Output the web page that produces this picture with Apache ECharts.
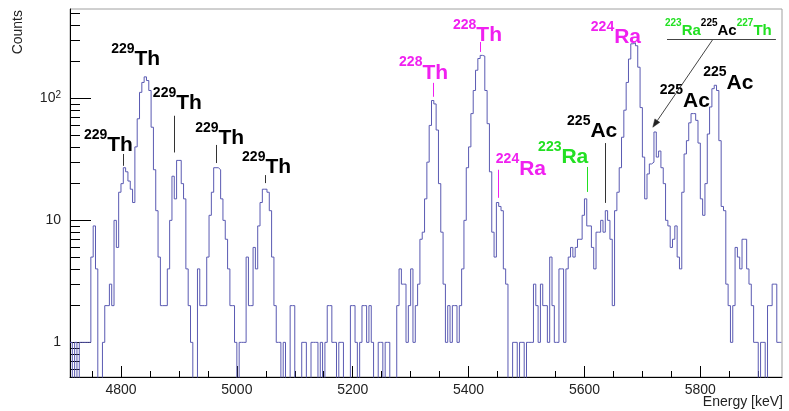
<!DOCTYPE html>
<html>
<head>
<meta charset="utf-8">
<script src="https://cdn.jsdelivr.net/npm/echarts@6/dist/echarts.min.js"></script>
<style>
  html, body { margin: 0; padding: 0; background: #fff; }
  #chart { width: 789px; height: 411px; }
</style>
</head>
<body>
<div id="chart"></div>
<script>
// Alpha spectrum, 4 keV bins, first bin starts at 4712 keV
const binStart = 4712;
const binWidth = 4;

// counts per bin, grouped by energy range (first bin energy in the name)
const counts4712 = [1,0,1,0,1,1,1,1,1,5,9,4,0,0,1,2,2,3,2,10,6,17,20,27];
const counts4808 = [25,21,18,14,40,68,112,135,150,140,116,58,26,12,5,2,2,2,4,10,23,15,31,31,20];
const counts4908 = [15,4,2,1,0,0,4,2,2,2,5,11,17,27,27,26,15,10,7,4,2,2,1,0,1];
const counts5008 = [1,1,5,2,2,6,4,9,14,18,18,17,12,5,2,1,1,0,1,0,0,2,2,0,0];
const counts5108 = [0,1,1,0,0,1,1,1,0,1,0,1,2,2,1,1,0,1,1,0,0,0,2,2,1];
const counts5208 = [0,1,2,2,1,2,1,0,0,1,1,0,1,1,0,0,0,2,4,3,3,1,2,4,1];
const counts5308 = [2,3,7,8,15,30,60,96,90,55,20,8,3,1,2,1,2,2,1,2,4,10,27,40,75];
const counts5408 = [116,170,212,225,222,116,62,25,8,5,14,13,12,4,3,0,0,1,1,0,1,1,0,1,1];
const counts5508 = [1,3,2,1,3,2,2,1,5,2,1,1,4,4,1,4,5,6,5,6,7,7,11,15,9];
const counts5608 = [9,6,4,8,8,10,8,12,10,7,2,12,17,27,48,80,135,210,280,285,270,180,84,33,15];
const counts5708 = [24,29,30,53,33,37,27,20,10,9,6,7,9,5,4,17,35,45,63,75,75,66,43,15,11];
const counts5808 = [20,51,85,120,128,116,45,13,12,3,2,1,2,6,5,4,7,7,4,3,2,1,1,0,1,1,0,2,2,3,3,1,1];

// axis tick values
const xMajorTicks = [4800, 5000, 5200, 5400, 5600, 5800];
const xMinorTicks = [4750, 4850, 4900, 4950, 5050, 5100, 5150, 5250, 5300, 5350, 5450, 5500, 5550, 5650, 5700, 5750, 5850, 5900];
const yMajorTicks = [1, 10, 100];
const yMinorTicks = [0.6, 0.7, 0.8, 0.9, 2, 3, 4, 5, 6, 7, 8, 9, 20, 30, 40, 50, 60, 70, 80, 90, 200, 300, 400, 500];

// axis ranges
const eMin = 4712, eMax = 5941;
const cMin = 0.52, cMax = 540;

const FONT = "'Liberation Sans', Arial, Helvetica, sans-serif";
const TONES = { black: '#000000', magenta: '#f020f0', green: '#22e022' };

const counts = [].concat(counts4712, counts4808, counts4908, counts5008, counts5108, counts5208,
  counts5308, counts5408, counts5508, counts5608, counts5708, counts5808);

// empty bins fall below the log axis floor
const emptyLevel = 0.3;
const histData = counts.map((c, i) => [binStart + i * binWidth, c > 0 ? c : emptyLevel]);
histData.push([binStart + counts.length * binWidth, counts[counts.length - 1] || emptyLevel]);

const lg = v => Math.log10(v);

const option = {
  animation: false,
  backgroundColor: '#ffffff',
  grid: {
    left: 70, right: 7, top: 9, bottom: 34,
    show: true, borderColor: '#a0a0a0', borderWidth: 1,
    containLabel: false, outerBoundsMode: 'none'
  },
  xAxis: [
    {
      type: 'value', min: eMin, max: eMax, position: 'bottom',
      axisLine: { show: true, onZero: false, lineStyle: { color: '#000', width: 1 } },
      axisTick: { show: true, inside: true, length: 11, customValues: xMajorTicks, lineStyle: { color: '#000' } },
      axisLabel: { customValues: xMajorTicks, color: '#222', fontSize: 14, fontFamily: FONT, margin: 6,
        formatter: v => String(Math.round(v)) },
      splitLine: { show: false }
    },
    {
      type: 'value', min: eMin, max: eMax, position: 'bottom',
      axisLine: { show: false, onZero: false },
      axisTick: { show: true, inside: true, length: 6, customValues: xMinorTicks, lineStyle: { color: '#000' } },
      axisLabel: { show: false },
      splitLine: { show: false }
    }
  ],
  yAxis: [
    {
      type: 'log', logBase: 10, min: cMin, max: cMax, position: 'left',
      axisLine: { show: true, onZero: false, lineStyle: { color: '#000', width: 1 } },
      axisTick: { show: false },
      axisLabel: { show: false },
      splitLine: { show: false }
    },
    {
      type: 'value', min: lg(cMin), max: lg(cMax), position: 'left',
      axisLine: { show: false, onZero: false },
      axisTick: { show: true, inside: true, length: 21, customValues: yMajorTicks.map(lg), lineStyle: { color: '#000' } },
      axisLabel: {
        customValues: yMajorTicks.map(lg),
        color: '#222', fontSize: 14, fontFamily: FONT, margin: 9, lineHeight: 16,
        formatter: v => {
          const p = Math.round(v);
          if (p === 0) return '1';
          if (p === 1) return '10';
          return '10{sup|' + p + '}';
        },
        rich: { sup: { fontSize: 10, fontFamily: FONT, color: '#222', verticalAlign: 'top', lineHeight: 10 } }
      },
      splitLine: { show: false }
    },
    {
      type: 'value', min: lg(cMin), max: lg(cMax), position: 'left',
      axisLine: { show: false, onZero: false },
      axisTick: { show: true, inside: true, length: 10, customValues: yMinorTicks.map(lg), lineStyle: { color: '#000' } },
      axisLabel: { show: false },
      splitLine: { show: false }
    }
  ],
  series: [
    {
      type: 'line',
      step: 'end',
      xAxisIndex: 0,
      yAxisIndex: 0,
      data: histData,
      showSymbol: false,
      symbol: 'none',
      clip: true,
      silent: true,
      lineStyle: { color: '#5a5ab2', width: 1 }
    }
  ]
};

const chart = echarts.init(document.getElementById('chart'), null, { renderer: 'canvas', width: 789, height: 411 });
chart.setOption(option);

// Nuclide labels: left edge (keV) and vertical centre (counts)
const peakLabels = [
  { mass: '229', el: 'Th', tone: 'black', e: 4736, c: 44 },
  { mass: '229', el: 'Th', tone: 'black', e: 4783, c: 222 },
  { mass: '229', el: 'Th', tone: 'black', e: 4855, c: 97 },
  { mass: '229', el: 'Th', tone: 'black', e: 4928, c: 50 },
  { mass: '229', el: 'Th', tone: 'black', e: 5009, c: 29 },
  { mass: '228', el: 'Th', tone: 'magenta', e: 5280, c: 172 },
  { mass: '228', el: 'Th', tone: 'magenta', e: 5373, c: 350 },
  { mass: '224', el: 'Ra', tone: 'magenta', e: 5447, c: 28 },
  { mass: '223', el: 'Ra', tone: 'green', e: 5520, c: 35 },
  { mass: '225', el: 'Ac', tone: 'black', e: 5570, c: 57 },
  { mass: '224', el: 'Ra', tone: 'magenta', e: 5611, c: 337 },
  { mass: '225', el: 'Ac', tone: 'black', e: 5730, c: 102 },
  { mass: '225', el: 'Ac', tone: 'black', e: 5805, c: 143 }
];

// short pointer lines from labels down to their peaks
const peakPointers = [
  { e: 4803.5, top: 35, bottom: 28, tone: 'black' },
  { e: 4891.5, top: 72, bottom: 36, tone: 'black' },
  { e: 4964, top: 41.5, bottom: 29.5, tone: 'black' },
  { e: 5048.5, top: 23.5, bottom: 20.2, tone: 'black' },
  { e: 5338.5, top: 134, bottom: 103, tone: 'magenta' },
  { e: 5419.5, top: 290, bottom: 240, tone: 'magenta' },
  { e: 5451, top: 26, bottom: 15.3, tone: 'magenta' },
  { e: 5604.5, top: 27.4, bottom: 17.1, tone: 'green' },
  { e: 5635.5, top: 43, bottom: 13.9, tone: 'black' }
];

// group label for the unresolved 5716 keV doublet
const groupLabel = {
  parts: [
    { mass: '223', el: 'Ra', tone: 'green' },
    { mass: '225', el: 'Ac', tone: 'black' },
    { mass: '227', el: 'Th', tone: 'green' }
  ],
  e: 5739, c: 377,
  underline: { e1: 5742.5, e2: 5930.5, c: 306 },
  arrow: { e1: 5822, c1: 306, e2: 5718, c2: 58 }
};

const px = (e, c) => chart.convertToPixel({ xAxisIndex: 0, yAxisIndex: 0 }, [e, c]);

function isotopeRich(sizeMass, sizeEl) {
  const rich = {};
  Object.keys(TONES).forEach(k => {
    rich['m' + k] = { fontSize: sizeMass, fontWeight: 'bold', fontFamily: FONT, fill: TONES[k],
      lineHeight: sizeMass, verticalAlign: 'top' };
    rich['s' + k] = { fontSize: sizeEl, fontWeight: 'bold', fontFamily: FONT, fill: TONES[k],
      lineHeight: Math.round(sizeEl * 1.33), verticalAlign: 'bottom' };
  });
  return rich;
}

const elements = [];

elements.push({
  type: 'text', x: 18, y: 10, rotation: Math.PI / 2, silent: true,
  style: { text: 'Counts', fontSize: 14, fontFamily: FONT, fill: '#222', align: 'right', verticalAlign: 'middle' }
});
elements.push({
  type: 'text', x: 783, y: 402, silent: true,
  style: { text: 'Energy [keV]', fontSize: 14, fontFamily: FONT, fill: '#222', align: 'right', verticalAlign: 'middle' }
});

const richBig = isotopeRich(14, 21);
peakLabels.forEach(l => {
  const p = px(l.e, l.c);
  elements.push({
    type: 'text', x: p[0], y: p[1], silent: true, z: 10,
    style: {
      text: '{m' + l.tone + '|' + l.mass + '}{s' + l.tone + '|' + l.el + '}',
      rich: richBig, align: 'left', verticalAlign: 'middle'
    }
  });
});

peakPointers.forEach(t => {
  const a = px(t.e, t.top), b = px(t.e, t.bottom);
  elements.push({
    type: 'line', silent: true, z: 10,
    shape: { x1: Math.round(a[0]) + 0.5, y1: a[1], x2: Math.round(b[0]) + 0.5, y2: b[1] },
    style: { stroke: t.tone === 'black' ? '#333' : TONES[t.tone], lineWidth: 1 }
  });
});

const richSmall = isotopeRich(10, 15);
{
  const p = px(groupLabel.e, groupLabel.c);
  const txt = groupLabel.parts.map(q => '{m' + q.tone + '|' + q.mass + '}{s' + q.tone + '|' + q.el + '}').join('');
  elements.push({
    type: 'text', x: p[0], y: p[1], silent: true, z: 10,
    style: { text: txt, rich: richSmall, align: 'left', verticalAlign: 'middle' }
  });
  const u = groupLabel.underline;
  const u1 = px(u.e1, u.c), u2 = px(u.e2, u.c);
  elements.push({
    type: 'line', silent: true, z: 10,
    shape: { x1: u1[0], y1: Math.round(u1[1]) + 0.5, x2: u2[0], y2: Math.round(u2[1]) + 0.5 },
    style: { stroke: '#444', lineWidth: 1 }
  });
  const ar = groupLabel.arrow;
  const a1 = px(ar.e1, ar.c1), a2 = px(ar.e2, ar.c2);
  const dx = a2[0] - a1[0], dy = a2[1] - a1[1];
  const len = Math.sqrt(dx * dx + dy * dy);
  const ux = dx / len, uy = dy / len;
  const headL = 8, headW = 3;
  const bx = a2[0] - ux * headL, by = a2[1] - uy * headL;
  elements.push({
    type: 'line', silent: true, z: 10,
    shape: { x1: a1[0], y1: a1[1], x2: bx, y2: by },
    style: { stroke: '#444', lineWidth: 1 }
  });
  elements.push({
    type: 'polygon', silent: true, z: 10,
    shape: { points: [[a2[0], a2[1]], [bx - uy * headW, by + ux * headW], [bx + uy * headW, by - ux * headW]] },
    style: { fill: '#222', stroke: '#222', lineWidth: 0.5 }
  });
}

chart.setOption({ graphic: { elements: elements } });
</script>
</body>
</html>
